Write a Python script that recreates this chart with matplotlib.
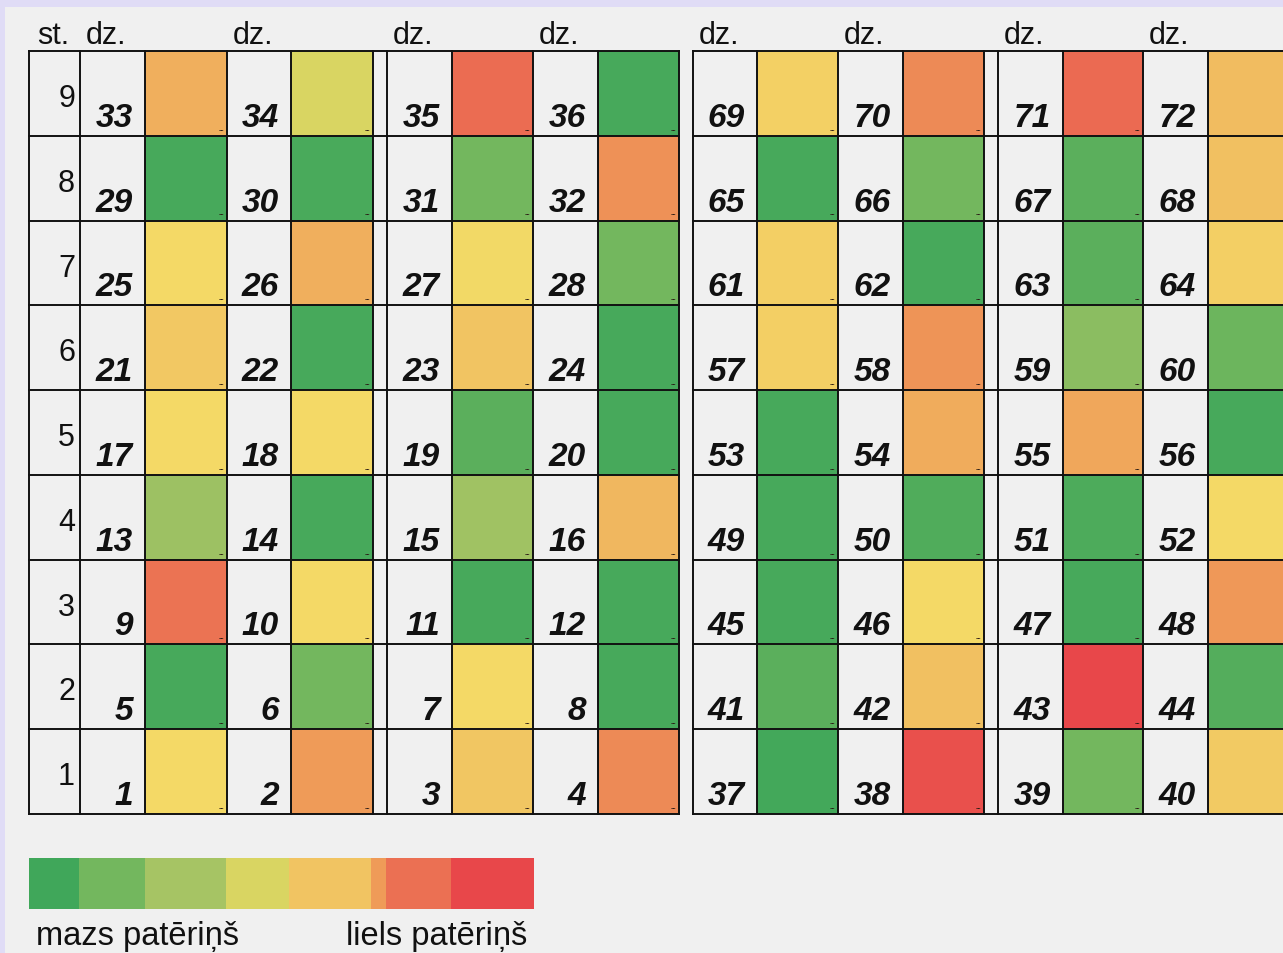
import matplotlib
matplotlib.use("Agg")
import matplotlib.pyplot as plt
from matplotlib.patches import Rectangle
from matplotlib.colors import LinearSegmentedColormap, Normalize

# ---------------- data ----------------
floors = [1, 2, 3, 4, 5, 6, 7, 8, 9]
apartments = list(range(1, 73))
consumption = [
    55, 75, 64, 80,   2, 15, 55,  2,  86, 55,  2,  2,
    27,  2, 28, 68,  55, 55,  8,  2,  63,  2, 65,  2,
    55, 70, 54, 15,   2,  3, 15, 78,  70, 45, 88,  2,
     1, 97, 15, 62,   8, 66, 100, 6,   2, 55,  2, 76,
     2,  5,  4, 55,   2, 71, 72,  2,  60, 77, 22, 13,
    60,  2,  8, 60,   2, 15,  8, 66,  59, 80, 89, 67,
]
scale_values = [0, 15, 30, 45, 55, 65, 75, 87, 100]
scale_colors = ["#40a75a", "#73b75e", "#a7c464", "#d9d562", "#f4d966",
                "#f1c462", "#ef9c58", "#eb7053", "#e8474a"]
legend_values = [0, 15, 30, 45, 65, 75, 87, 100]
header_floor = "st."
header_apt = "dz."
legend_low = "mazs patēriņš"
legend_high = "liels patēriņš"

# ---------------- layout ----------------
W, H = 1283, 954
fig = plt.figure(figsize=(W / 100, H / 100), dpi=100, facecolor="#e0dcf6")
ax = fig.add_axes([0, 0, 1, 1])
ax.set_xlim(0, W)
ax.set_ylim(H, 0)
ax.axis("off")

FONT = "Liberation Sans"
LINE = "#111111"
LW = 1.4
PANEL = "#f0f0f0"

ax.add_patch(Rectangle((5, 8), W, H, facecolor=PANEL, edgecolor="none", zorder=0))

grid_top, grid_bot = 52, 815
row_h = (grid_bot - grid_top) / len(floors)
floor_col = (29, 80)
# each apartment column: (number-cell left, colour-cell left, colour-cell right)
blocks = [
    [(80, 145, 227), (227, 291, 373), (387, 452, 533), (533, 598, 679)],
    [(693, 757, 838), (838, 903, 984), (998, 1063, 1143), (1143, 1208, 1289)],
]
block_extent = [(29, 679), (693, 1289)]

cmap = LinearSegmentedColormap.from_list(
    "cons", [(v / 100, c) for v, c in zip(scale_values, scale_colors)])
norm = Normalize(0, 100)


def row_top(f):
    return grid_top + (len(floors) - f) * row_h


for b, cols in enumerate(blocks):
    for f in floors:
        yt = row_top(f)
        yb = yt + row_h
        for p, (xn, xc, xr) in enumerate(cols):
            apt = b * 36 + (f - 1) * 4 + p + 1
            val = consumption[apartments.index(apt)]
            ax.add_patch(Rectangle((xc, yt), xr - xc, row_h,
                                   facecolor=cmap(norm(val)), edgecolor="none", zorder=1))
            ax.text(xc - 12, yb - 10, str(apt), ha="right", va="baseline",
                    fontsize=24, fontweight="bold", fontstyle="italic",
                    family=FONT, color="#111111", zorder=3)
            if xr <= W:
                ax.text(xr - 3, yb - 5, "--", ha="right", va="baseline",
                        fontsize=6, fontweight="bold", color="#2a1a14",
                        family=FONT, zorder=3)

# floor column
for f in floors:
    yt = row_top(f)
    ax.text(floor_col[1] - 5, yt + 55, str(f), ha="right", va="baseline",
            fontsize=22, family=FONT, color="#111111", zorder=3)

# grid lines
for b, cols in enumerate(blocks):
    xs = [floor_col[0], floor_col[1]] if b == 0 else [block_extent[1][0]]
    for (xn, xc, xr) in cols:
        xs += [xn, xc, xr]
    xs = sorted(set(xs))
    x0 = floor_col[0] if b == 0 else block_extent[1][0]
    x1 = block_extent[b][1]
    for x in xs:
        ax.plot([x, x], [grid_top, grid_bot], color=LINE, lw=LW, zorder=4,
                solid_capstyle="projecting")
    for i in range(len(floors) + 1):
        y = grid_top + i * row_h
        ax.plot([x0, x1], [y, y], color=LINE, lw=LW, zorder=4,
                solid_capstyle="projecting")

# headers
ax.text(37, 44, header_floor, ha="left", va="baseline", fontsize=22,
        family=FONT, color="#111111")
for cols in blocks:
    for (xn, xc, xr) in cols:
        ax.text(xn + 6, 44, header_apt, ha="left", va="baseline", fontsize=22,
                family=FONT, color="#111111")

# legend colour strip
legend_edges = [29, 79, 145, 226, 289, 371, 386, 451, 534]
for i, v in enumerate(legend_values):
    ax.add_patch(Rectangle((legend_edges[i], 859), legend_edges[i + 1] - legend_edges[i],
                           51, facecolor=cmap(norm(v)), edgecolor="none", zorder=1))
ax.text(36, 945, legend_low, ha="left", va="baseline", fontsize=23.5,
        family=FONT, color="#111111")
ax.text(527, 945, legend_high, ha="right", va="baseline", fontsize=23.5,
        family=FONT, color="#111111")

fig.savefig("out.png", dpi=100, facecolor=fig.get_facecolor())
